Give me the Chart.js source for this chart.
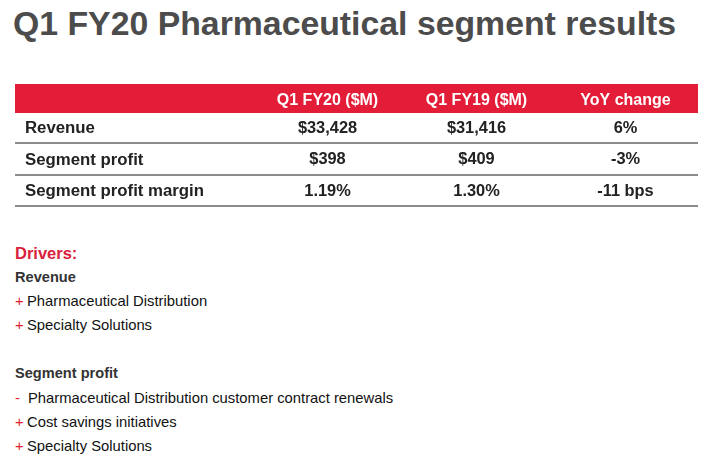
<!DOCTYPE html>
<html>
<head>
<meta charset="utf-8">
<script src="https://cdn.jsdelivr.net/npm/chart.js@4.4.1/dist/chart.umd.min.js"></script>
<style>
  html, body { margin: 0; padding: 0; background: #fff; }
  body { width: 710px; height: 475px; position: relative; overflow: hidden; font-family: "Liberation Sans", Arial, sans-serif; }
  .title { position: absolute; left: 13px; top: 6px; font-size: 33.8px; line-height: 34px; font-weight: bold; color: #4c4c4c; white-space: nowrap; }
  .table-wrap { position: absolute; left: 0; top: 80px; width: 710px; height: 140px; }
  .drivers { position: absolute; left: 15px; top: 241px; line-height: 24.1px; font-size: 14.8px; color: #111; }
  .drivers div { white-space: nowrap; height: 24.1px; }
  .drivers .head { font-size: 16.5px; font-weight: bold; color: #d9213a; }
  .drivers .sub { font-size: 14.6px; font-weight: bold; color: #333; }
  .drivers .sign { display: inline-block; width: 12px; color: #e0202e; }
  .drivers .sign.minus { width: 13px; }
</style>
</head>
<body>
<div class="title">Q1 FY20 Pharmaceutical segment results</div>
<div class="table-wrap"><canvas id="segmentTable"></canvas></div>
<div class="drivers">
  <div class="head">Drivers:</div>
  <div class="sub">Revenue</div>
  <div><span class="sign">+</span>Pharmaceutical Distribution</div>
  <div><span class="sign">+</span>Specialty Solutions</div>
  <div></div>
  <div class="sub">Segment profit</div>
  <div><span class="sign minus">-</span>Pharmaceutical Distribution customer contract renewals</div>
  <div><span class="sign">+</span>Cost savings initiatives</div>
  <div><span class="sign">+</span>Specialty Solutions</div>
</div>
<script>
const columns = ['Q1 FY20 ($M)', 'Q1 FY19 ($M)', 'YoY change'];
const metrics = ['Revenue', 'Segment profit', 'Segment profit margin'];
const q1fy20 = ['$33,428', '$398', '1.19%'];
const q1fy19 = ['$31,416', '$409', '1.30%'];
const yoyChange = ['6%', '-3%', '-11 bps'];

Chart.defaults.font.family = '"Liberation Sans", Arial, sans-serif';

// draws the red header band, the cell values and the row separators
const tablePlugin = {
    id: 'tableCells',
    beforeDraw(chart) {
        const { ctx, scales: { x, y } } = chart;
        ctx.save();
        ctx.fillStyle = '#e31d38';
        ctx.fillRect(y.left - 10, x.top, x.right - 2 - (y.left - 10), x.bottom - x.top);
        ctx.restore();
    },
    afterDraw(chart) {
        const { ctx, scales: { x, y } } = chart;
        const cols = [q1fy20, q1fy19, yoyChange];
        const half = y.height / metrics.length / 2;
        ctx.save();
        ctx.font = 'bold 16.4px "Liberation Sans", Arial, sans-serif';
        ctx.fillStyle = '#222';
        ctx.textAlign = 'center';
        ctx.textBaseline = 'middle';
        cols.forEach((col, ci) => {
            col.forEach((val, ri) => {
                ctx.fillText(val, x.getPixelForValue(ci), y.getPixelForValue(ri));
            });
        });
        ctx.strokeStyle = '#8c8c8c';
        ctx.lineWidth = 2;
        metrics.forEach((m, ri) => {
            const yy = Math.round(y.getPixelForValue(ri) + half) - 1;
            ctx.beginPath();
            ctx.moveTo(y.left - 10, yy);
            ctx.lineTo(x.right - 2, yy);
            ctx.stroke();
        });
        ctx.restore();
    }
};

document.addEventListener('DOMContentLoaded', function () {
    const ctx = document.getElementById('segmentTable').getContext('2d');
    new Chart(ctx, {
        type: 'bar',
        data: { labels: columns, datasets: [] },
        options: {
            responsive: true,
            maintainAspectRatio: false,
            animation: false,
            events: [],
            layout: { padding: { left: 25, right: 10, top: 4, bottom: 5 } },
            plugins: { legend: { display: false }, tooltip: { enabled: false } },
            scales: {
                x: {
                    type: 'category',
                    position: 'top',
                    offset: true,
                    grid: { display: false, drawTicks: false },
                    border: { display: false },
                    ticks: {
                        color: '#ffffff',
                        padding: 3,
                        autoSkip: false,
                        maxRotation: 0,
                        font: { size: 16, weight: 'bold' }
                    },
                    afterFit: s => { s.height = 29; }
                },
                y: {
                    type: 'category',
                    labels: metrics,
                    offset: true,
                    grid: { display: false, drawTicks: false },
                    border: { display: false },
                    ticks: {
                        color: '#222',
                        crossAlign: 'far',
                        autoSkip: false,
                        font: { size: 16.8, weight: 'bold' }
                    },
                    afterFit: s => { s.width = 228; }
                }
            }
        },
        plugins: [tablePlugin]
    });
});
</script>
</body>
</html>
